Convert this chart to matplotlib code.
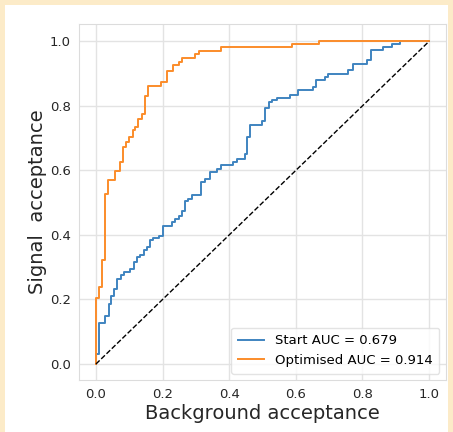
import matplotlib
matplotlib.use('Agg')
import matplotlib.pyplot as plt
from matplotlib.patches import Rectangle

# ROC step points: x = background acceptance where the curve steps up, y = signal acceptance reached
start_bkg = [0, 0.008, 0.028, 0.038, 0.046, 0.055, 0.063, 0.075, 0.085, 0.103,
             0.113, 0.123, 0.133, 0.143, 0.153, 0.161, 0.171, 0.188, 0.200, 0.228,
             0.238, 0.248, 0.258, 0.268, 0.276, 0.288, 0.316, 0.326, 0.343, 0.363,
             0.375, 0.410, 0.423, 0.448, 0.453, 0.461, 0.498, 0.508, 0.518, 0.528,
             0.543, 0.583, 0.606, 0.651, 0.661, 0.688, 0.698, 0.758, 0.773, 0.813,
             0.825, 0.863, 0.888, 0.913, 1.0]
start_sig = [0, 0.031, 0.126, 0.150, 0.186, 0.212, 0.233, 0.264, 0.277, 0.284,
             0.295, 0.315, 0.331, 0.339, 0.354, 0.364, 0.383, 0.390, 0.398, 0.429,
             0.440, 0.450, 0.460, 0.474, 0.504, 0.512, 0.524, 0.564, 0.574, 0.595,
             0.605, 0.617, 0.626, 0.636, 0.651, 0.703, 0.741, 0.752, 0.794, 0.812,
             0.819, 0.825, 0.835, 0.848, 0.858, 0.879, 0.889, 0.900, 0.910, 0.929,
             0.941, 0.972, 0.982, 0.993, 1.0]

opt_bkg = [0, 0.008, 0.018, 0.026, 0.035, 0.056, 0.073, 0.081, 0.091, 0.100,
           0.110, 0.118, 0.127, 0.138, 0.148, 0.156, 0.196, 0.213, 0.232, 0.248,
           0.258, 0.298, 0.308, 0.375, 0.588, 0.671, 1.0]
opt_sig = [0, 0.204, 0.238, 0.323, 0.527, 0.571, 0.597, 0.626, 0.672, 0.689,
           0.703, 0.724, 0.734, 0.758, 0.776, 0.829, 0.861, 0.874, 0.907, 0.928,
           0.937, 0.949, 0.960, 0.971, 0.981, 0.992, 1.0]

start_auc = 0.679
opt_auc = 0.914

fig = plt.figure(figsize=(4.53, 4.32), dpi=100)
fig.patch.set_facecolor('#fcebc8')
fig.patches.append(Rectangle((5/453, 0), 443/453, 427/432, transform=fig.transFigure,
                             facecolor='white', edgecolor='none', zorder=-10))

ax = fig.add_axes([0.175, 0.120, 0.809, 0.824])
ax.plot(start_bkg, start_sig, drawstyle='steps-pre', color='#3f84c0', lw=1.4,
        label='Start AUC = %.3f' % start_auc)
ax.plot(opt_bkg, opt_sig, drawstyle='steps-pre', color='#fb8c2a', lw=1.4,
        label='Optimised AUC = %.3f' % opt_auc)
ax.plot([0, 1], [0, 1], 'k--', lw=1)

ax.set_xlim(-0.05, 1.05)
ax.set_ylim(-0.05, 1.053)
ax.set_xticks([0, 0.2, 0.4, 0.6, 0.8, 1.0])
ax.set_yticks([0, 0.2, 0.4, 0.6, 0.8, 1.0])
ax.grid(True, color='#e3e3e3', lw=1)
ax.set_axisbelow(True)
for s in ax.spines.values():
    s.set_color('#dcdcdc')
ax.tick_params(length=0, labelsize=9.5, labelcolor='#262626', pad=6)
ax.set_xlabel('Background acceptance', fontsize=14, color='#262626', labelpad=2)
ax.set_ylabel('Signal  acceptance', fontsize=14, color='#262626', labelpad=2)
ax.legend(loc='lower right', fontsize=9.5, frameon=True, edgecolor='#dcdcdc',
          borderpad=0.5, handlelength=2.0)

fig.savefig('out.png', dpi=100, facecolor=fig.get_facecolor())
